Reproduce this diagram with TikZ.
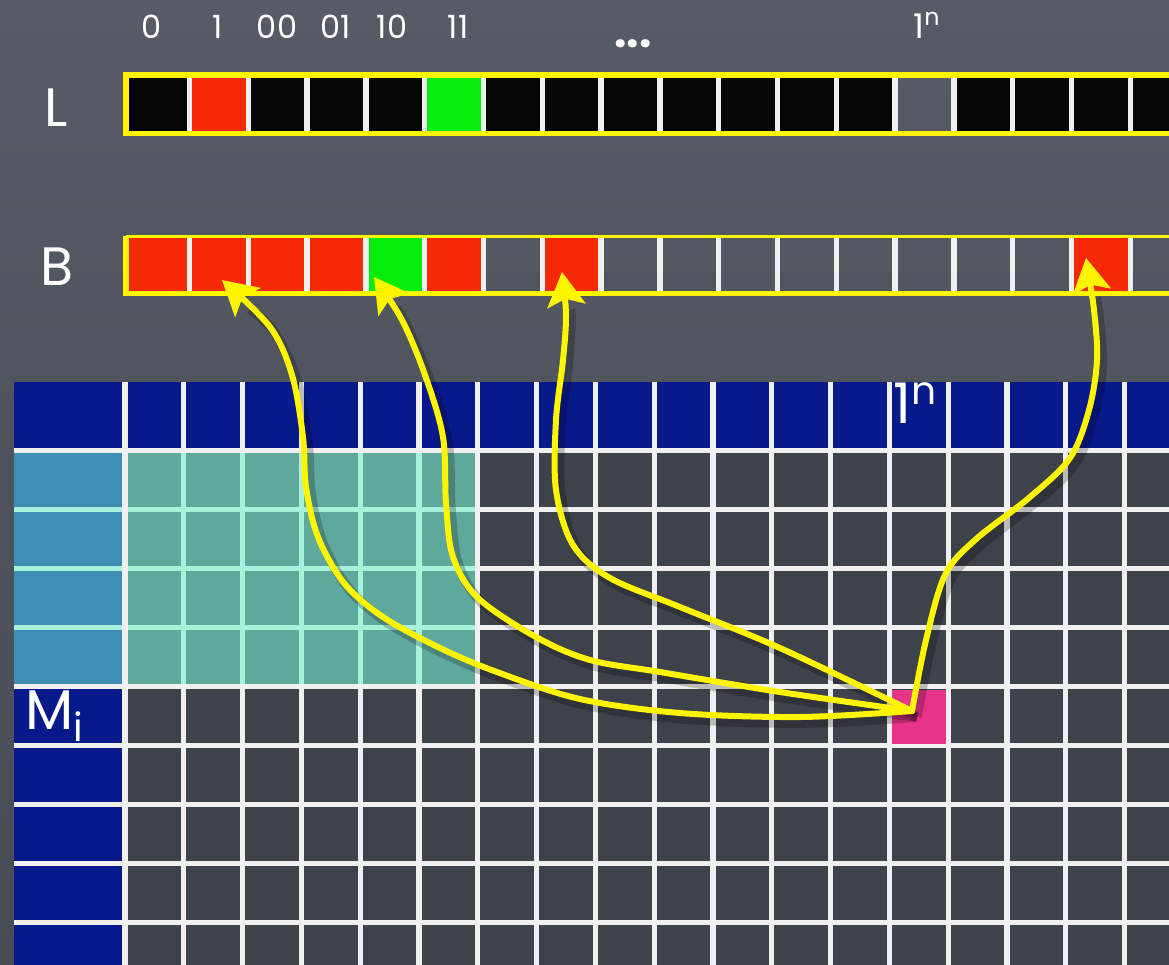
\documentclass[tikz,border=0pt]{standalone}
\usepackage{fontspec}
\setmainfont{Poppins}
\usetikzlibrary{arrows.meta}
\definecolor{bgtop}{HTML}{565B65}
\definecolor{bgbot}{HTML}{474B54}
\definecolor{gridbg}{HTML}{3E424B}
\definecolor{hdr}{HTML}{08198C}
\definecolor{steel}{HTML}{3E8DB4}
\definecolor{tealc}{HTML}{5FA99C}
\definecolor{mint}{HTML}{A8F2DC}
\definecolor{redc}{HTML}{F52A05}
\definecolor{greenc}{HTML}{05EE0A}
\definecolor{blackc}{HTML}{050505}
\definecolor{yel}{HTML}{FFF500}
\definecolor{pinkc}{HTML}{E8338B}
\definecolor{wline}{HTML}{F0F0F0}
\begin{document}
\begin{tikzpicture}[x=0.5pt,y=-0.5pt,
  lab/.style={text=white, inner sep=0pt},
  wl/.style={draw=wline, line width=2.6pt},
  ml/.style={draw=mint, line width=2.6pt},
  cellw/.style={draw=wline, line width=2.7pt},
  ybar/.style={draw=yel, line width=2.6pt, line join=miter},
  arr/.style={draw=yel, line width=3pt, line cap=round,
    -{Stealth[length=17pt,width=19pt,inset=3.5pt]}},
  shd/.style={draw=black, opacity=0.22, line width=4.8pt,
    transform canvas={shift={(2.5pt,-3pt)}}},
  pinkcell/.style={fill=pinkc, minimum width=27pt, minimum height=27pt, inner sep=0pt}]
\useasboundingbox (0,0) rectangle (1169,965);
\clip (0,0) rectangle (1169,965);
\shade[top color=bgtop, bottom color=bgbot] (0,0) rectangle (1169,965);

% ---------------- L bar ----------------
\foreach \k/\c in {0/blackc,1/redc,2/blackc,3/blackc,4/blackc,5/greenc,6/blackc,7/blackc,8/blackc,9/blackc,10/blackc,11/blackc,12/blackc,14/blackc,15/blackc,16/blackc,17/blackc,18/blackc}
  \fill[\c] ({130.7+58.8*\k},77) rectangle ({130.7+58.8*(\k+1)},131.5);
\fill[blackc] (127,77) rectangle (131,131.5);
\foreach \k in {1,...,18}
  \draw[cellw] ({130.7+58.8*\k},77) -- ({130.7+58.8*\k},131.5);
\draw[ybar] (1180,75) -- (126,75) -- (126,133.5) -- (1180,133.5);

% ---------------- B bar ----------------
\foreach \k/\c in {0/redc,1/redc,2/redc,3/redc,4/greenc,5/redc,7/redc,16/redc}
  \fill[\c] ({130.7+58.8*\k},237.5) rectangle ({130.7+58.8*(\k+1)},291.5);
\fill[redc] (127,237.5) rectangle (131,291.5);
\foreach \k in {1,...,18}
  \draw[cellw] ({130.7+58.8*\k},237.5) -- ({130.7+58.8*\k},291.5);
\draw[draw=yel, line width=1.6pt] (1180,236.3) -- (126,236.3);
\draw[ybar] (126,235.5) -- (126,293.5) -- (1180,293.5);

% ---------------- labels ----------------
\node[lab, font=\fontsize{27}{30}\selectfont] (labL) at (56,108) {L};
\node[lab, font=\fontsize{27}{30}\selectfont] (labB) at (57,267) {B};
\foreach \t/\x/\n in {0/152/t0,1/218/t1,00/277/t00,01/336/t01,10/392/t10,11/458/t11}
  \node[lab, anchor=base, font=\fontsize{16}{18}\selectfont] (\n) at (\x,38) {\t};
\node[lab, anchor=base, font=\fontsize{22}{24}\selectfont\bfseries] (dots) at (633,47) {...};
\node[lab, anchor=base west, font=\fontsize{17}{19}\selectfont] (t1n) at (913,38) {1\textsuperscript{n}};

% ---------------- grid ----------------
\fill[gridbg] (14,450) rectangle (1169,965);
\fill[hdr] (14,382) rectangle (1169,450);
\fill[hdr] (14,687) rectangle (125,965);
\fill[steel] (14,450) rectangle (125,687);
\fill[tealc] (125,450) rectangle (478,687);
\foreach \j in {1,...,5}
  \draw[ml] ({125+58.8*\j},450) -- ({125+58.8*\j},687);
\foreach \r in {1,2,3}
  \draw[ml] (14,{450.5+59*\r}) -- (478,{450.5+59*\r});
\foreach \r in {1,2,3}
  \draw[wl] (478,{450.5+59*\r}) -- (1169,{450.5+59*\r});
\foreach \r in {0,4,5,6,7,8}
  \draw[wl] (14,{450.5+59*\r}) -- (1169,{450.5+59*\r});
\foreach \j in {0,6,7,...,17}
  \draw[wl] ({125+58.8*\j},382) -- ({125+58.8*\j},965);
\foreach \j in {1,...,5} {
  \draw[wl] ({125+58.8*\j},382) -- ({125+58.8*\j},450);
  \draw[wl] ({125+58.8*\j},687) -- ({125+58.8*\j},965);
}
\node[lab, font=\fontsize{28}{30}\selectfont] (mi) at (55,716) {M\textsubscript{i}};
\node[lab, anchor=base west, font=\fontsize{28}{30}\selectfont] (h1n) at (893,423) {1\textsuperscript{n}};

% source cell
\node[pinkcell] (src) at (918.5,716.5) {};

% ---------------- arrows ----------------
\coordinate (o) at (912,711);
\coordinate (tA) at (222,280);
\coordinate (tB) at (374,277);
\coordinate (tC) at (562,272);
\coordinate (tD) at (1086,258);

\draw[shd] plot[smooth,tension=0.55] coordinates {(o) (800,717) (680,713) (580,699) (497,672) (440,648) (383,617) (344,583) (318,537) (306,487) (303,437) (292,375) (270,327) (245,303)};
\draw[shd] plot[smooth,tension=0.55] coordinates {(o) (780,692) (660,672) (590,660) (536,637) (478,598) (453,557) (446,503) (443,437) (425,375) (402,320) (391,302)};
\draw[shd] plot[smooth,tension=0.55] coordinates {(o) (780,648) (680,607) (610,578) (573,545) (556,490) (556,420) (563,360) (566,315) (565,304)};
\draw[shd] plot[smooth,tension=0.55] coordinates {(o) (926,640) (945,575) (975,540) (1030,497) (1070,458) (1089,410) (1097,360) (1094,310) (1091,292)};

\draw[arr] plot[smooth,tension=0.55] coordinates {(o) (800,717) (680,713) (580,699) (497,672) (440,648) (383,617) (344,583) (318,537) (306,487) (303,437) (292,375) (270,327) (tA)};
\draw[arr] plot[smooth,tension=0.55] coordinates {(o) (780,692) (660,672) (590,660) (536,637) (478,598) (453,557) (446,503) (443,437) (425,375) (402,320) (tB)};
\draw[arr] plot[smooth,tension=0.55] coordinates {(o) (780,648) (680,607) (610,578) (573,545) (556,490) (556,420) (563,360) (566,315) (tC)};
\draw[arr] plot[smooth,tension=0.55] coordinates {(o) (926,640) (945,575) (975,540) (1030,497) (1070,458) (1089,410) (1097,360) (1094,310) (tD)};
\end{tikzpicture}
\end{document}
